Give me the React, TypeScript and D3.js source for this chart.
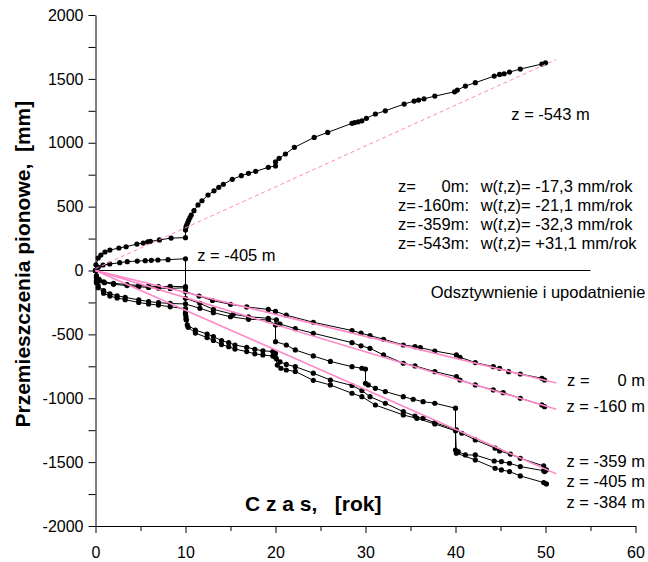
import React, { useEffect, useRef } from 'react';
import * as d3 from 'd3';

// [czas t (rok), przemieszczenie w (mm)]
const z0m = [
  [0, 0], [0.1, -40], [0.4, -70], [0.9, -88], [2, -100], [3.5, -110], [4.8, -117], [5.9, -122], [7, -126], [8.3, -124], [10, -127],
  [10, -166], [11.5, -200], [13, -235], [15, -265], [16.8, -285], [19.2, -305], [20, -320], [21.2, -350], [24.2, -405], [28.5, -470],
  [29.5, -490], [30.5, -510], [32, -538], [34.2, -583], [35.5, -596], [36.1, -604], [37.7, -630], [40.1, -661], [40.5, -679],
  [42.2, -721], [44.2, -753], [44.9, -765], [45.9, -792], [47.2, -810], [49.6, -844], [49.9, -857],
];

const z160m = [
  [0, 0], [0.1, -55], [0.4, -80], [1, -95], [2, -108], [3.5, -118], [4.8, -127], [5.9, -133], [7, -138], [8.3, -140], [10, -135],
  [10, -218], [11.6, -257], [13.1, -304], [15.3, -343], [17, -362], [19.2, -374], [20.1, -387], [20.5, -419], [22.2, -455],
  [24.2, -491], [28.5, -565], [29.5, -590], [30.5, -609], [32, -661], [34.2, -726], [35.5, -747], [37.7, -792], [40.1, -831],
  [40.5, -857], [42.2, -896], [44.2, -935], [45.3, -956], [47.2, -1000], [49.6, -1052], [49.9, -1066],
];

const z359m = [
  [0, 0], [0.1, -80], [0.3, -118], [0.9, -158], [1.6, -182], [2.4, -198], [3.3, -210], [4.8, -230], [5.9, -243], [7, -252], [8.3, -258], [10, -262],
  [11.6, -296], [13.1, -330], [15, -362], [17, -382], [19.2, -387], [20, -426],
  [20, -557], [21.2, -583], [22.2, -622], [24.2, -669], [26.1, -712], [28.5, -753], [29.6, -765], [30, -771],
  [30, -883], [30.3, -896], [31.1, -922], [32.2, -948], [34.2, -988], [35.3, -1008], [36.4, -1027], [37.7, -1039], [40, -1078],
  [40, -1405], [40.3, -1418], [41.1, -1444], [42.2, -1444], [44.3, -1491], [45.1, -1496], [46, -1509], [47.2, -1535], [49.8, -1567], [49.9, -1574],
];

const z384m = [
  [0, 0], [0.1, -95], [0.3, -135], [0.9, -178], [1.6, -200], [2.4, -215], [3.3, -228], [4.8, -250], [5.9, -262], [7, -271], [8.3, -284], [10, -299],
  [10, -330], [10.05, -360], [10.1, -387], [10.2, -426], [11.1, -466], [12.4, -497], [13.1, -518], [14, -549], [14.8, -565], [15.5, -583],
  [16.8, -601], [17.7, -617], [18.6, -628], [19.7, -635], [20, -648],
  [20.1, -690], [20.5, -715], [21.2, -735], [22.2, -753], [24.2, -804], [26.1, -857], [28.5, -900], [29.6, -940], [30.5, -988],
  [32.2, -1039], [34.2, -1105], [35.5, -1139], [36.4, -1157], [37.7, -1191], [40.1, -1248], [40.7, -1274], [42.2, -1326],
  [44.4, -1391], [44.9, -1412], [46.1, -1438], [47.2, -1470], [49.8, -1530], [50.1, -1561],
];

const z405m = [
  [0, 0], [0.3, 25], [0.83, 43], [1.58, 51], [2.69, 61], [3.53, 69], [4.64, 74], [5.53, 77], [6.2, 80], [6.94, 82], [8.06, 85], [10, 92],
  [10, -340], [10.05, -380], [10.3, -445], [11.1, -490], [12.4, -525], [13.1, -548], [14, -580], [14.8, -597], [15.5, -615],
  [16.8, -635], [17.7, -652], [18.6, -661], [19.7, -670], [20, -680],
  [20.2, -740], [20.6, -765], [21.2, -779], [22.2, -790], [24.2, -860], [26.1, -896], [28.5, -961], [29.6, -988], [31.1, -1053],
  [34.2, -1131], [35.7, -1157], [37.7, -1201], [40, -1255],
  [40.1, -1430], [42.2, -1483], [44.4, -1548], [45.1, -1561], [46, -1574], [47.2, -1608], [49.8, -1660], [50.1, -1671],
];

const z543m = [
  [0, 0], [0.05, 45], [0.3, 98], [0.6, 121], [1.05, 145], [1.6, 160], [2.6, 176], [3.4, 186], [4.6, 207], [5.3, 215], [5.8, 225],
  [6.1, 228], [7.1, 239], [8.4, 254], [10, 257],
  [10, 317], [10.05, 340], [10.13, 356], [10.25, 375], [10.36, 395], [10.5, 415], [10.64, 434], [10.94, 468], [11.39, 513],
  [11.83, 546], [12.5, 591], [13.17, 624], [13.7, 651], [14.2, 675], [15.2, 714], [16.2, 742], [17, 761], [17.8, 776], [19.2, 808], [20, 818],
  [20, 850], [20.4, 878], [21.1, 912], [22.1, 964], [24.3, 1042], [25.8, 1081], [28.5, 1152], [28.8, 1158], [29.2, 1164],
  [29.6, 1172], [30.1, 1191], [31.1, 1225], [32.2, 1250], [34.3, 1303], [35.4, 1326], [35.9, 1334], [36.5, 1344], [37.7, 1365],
  [39.9, 1399], [40.2, 1412], [41.1, 1444], [42.2, 1470], [44.3, 1522], [44.9, 1535], [45.4, 1540], [46, 1553], [47.2, 1577],
  [49.6, 1616], [50, 1626],
];

// proste trendu (różowe)
const fit0m = [[0, 0], [51.2, -880]];
const fit160m = [[0, 0], [51.2, -1086]];
const fit359m = [[0, 0], [51.2, -1592]];
const fit543m = [[0, 15], [51.2, 1652]];

const rateDepths = ['0m:', '-160m:', '-359m:', '-543m:'];
const rateValues = ['-17,3', '-21,1', '-32,3', '+31,1'];
const endLabels = ['0 m', '-160 m', '-359 m', '-405 m', '-384 m'];

const yTicks = d3.range(-2000, 2001, 250);
const xTicks = d3.range(0, 61, 5);

const FONT = 'Arial, "Liberation Sans", sans-serif';
const PINK = '#ff88c8';

const App = () => {
  const svgRef = useRef(null);

  useEffect(() => {
    const svg = d3.select(svgRef.current);
    svg.selectAll('*').remove();

    const x = d3.scaleLinear().domain([0, 60]).range([95.5, 635.5]);
    const y = d3.scaleLinear().domain([-2000, 2000]).range([526, 15]);

    const line = d3.line()
      .x(d => x(d[0]))
      .y(d => y(d[1]));

    // osie
    const yAxis = svg.append('g')
      .attr('transform', `translate(${x(0)},0)`)
      .call(d3.axisLeft(y).tickValues(yTicks).tickSize(7).tickSizeOuter(0).tickPadding(5)
        .tickFormat(d => (d % 500 === 0 ? String(d) : '')));
    yAxis.selectAll('text').attr('font-size', 16).attr('font-family', FONT).attr('fill', '#000');

    const xAxis = svg.append('g')
      .attr('transform', `translate(0,${y(-2000)})`)
      .call(d3.axisBottom(x).tickValues(xTicks).tickSize(7).tickSizeOuter(0).tickPadding(14)
        .tickFormat(d => (d % 10 === 0 ? String(d) : '')));
    xAxis.selectAll('text').attr('font-size', 16).attr('font-family', FONT).attr('fill', '#000');
    xAxis.selectAll('.tick line').attr('y2', d => (d % 10 === 0 ? 7 : 5));
    svg.selectAll('.domain').attr('stroke', '#000');

    // linia zerowa
    svg.append('line')
      .attr('x1', x(0)).attr('x2', x(55))
      .attr('y1', y(0)).attr('y2', y(0))
      .attr('stroke', '#000').attr('stroke-width', 1);

    // serie pomiarowe
    [z0m, z160m, z359m, z384m, z405m, z543m].forEach(pts => {
      svg.append('path')
        .datum(pts)
        .attr('fill', 'none')
        .attr('stroke', '#000')
        .attr('stroke-width', 1)
        .attr('d', line);
      svg.append('g')
        .selectAll('circle')
        .data(pts)
        .join('circle')
        .attr('cx', d => x(d[0]))
        .attr('cy', d => y(d[1]))
        .attr('r', 2.6)
        .attr('fill', '#000');
    });

    // trendy
    [fit0m, fit160m, fit359m].forEach(pts => {
      svg.append('path')
        .datum(pts)
        .attr('fill', 'none')
        .attr('stroke', PINK)
        .attr('stroke-width', 1.6)
        .attr('d', line);
    });
    svg.append('path')
      .datum(fit543m)
      .attr('fill', 'none')
      .attr('stroke', PINK)
      .attr('stroke-width', 1)
      .attr('stroke-dasharray', '4,3')
      .attr('d', line);

    const text = (tx, ty, str, anchor = 'start', size = 16.5, weight = 'normal') =>
      svg.append('text')
        .attr('x', x(tx)).attr('y', y(ty))
        .attr('text-anchor', anchor)
        .attr('font-family', FONT)
        .attr('font-size', size)
        .attr('font-weight', weight)
        .style('white-space', 'pre')
        .text(str);

    text(46.2, 1178, 'z = -543 m');
    text(11.3, 74, 'z = -405 m');
    text(61.1, -212, 'Odsztywnienie i upodatnienie', 'end');

    // opis prędkości
    rateDepths.forEach((dep, i) => {
      const v = 614 - i * 149;
      text(33.6, v, 'z=');
      text(41.5, v, dep, 'end');
      const t = text(42.8, v, 'w(');
      t.append('tspan').attr('font-style', 'italic').text('t');
      t.append('tspan').text(`,z)= ${rateValues[i]} mm/rok`);
    });

    // etykiety na końcach linii
    const endY = [-904, -1110, -1535, -1692, -1861];
    endLabels.forEach((lab, i) => {
      if (i === 0) {
        text(52.4, endY[i], 'z =');
        text(61.05, endY[i], lab, 'end');
      } else {
        text(61.05, endY[i], `z = ${lab}`, 'end');
      }
    });

    // tytuły osi
    text(16.6, -1880, 'C z a s,   [rok]', 'start', 21, 'bold');
    svg.append('text')
      .attr('transform', `translate(30,${y(50)}) rotate(-90)`)
      .attr('text-anchor', 'middle')
      .attr('font-family', FONT)
      .attr('font-size', 21)
      .attr('font-weight', 'bold')
      .style('white-space', 'pre')
      .text('Przemieszczenia pionowe,  [mm]');
  }, []);

  return (
    <svg
      ref={svgRef}
      width={648}
      height={562}
      style={{ position: 'absolute', left: 0, top: 0, background: '#fff' }}
    />
  );
};

export default App;
